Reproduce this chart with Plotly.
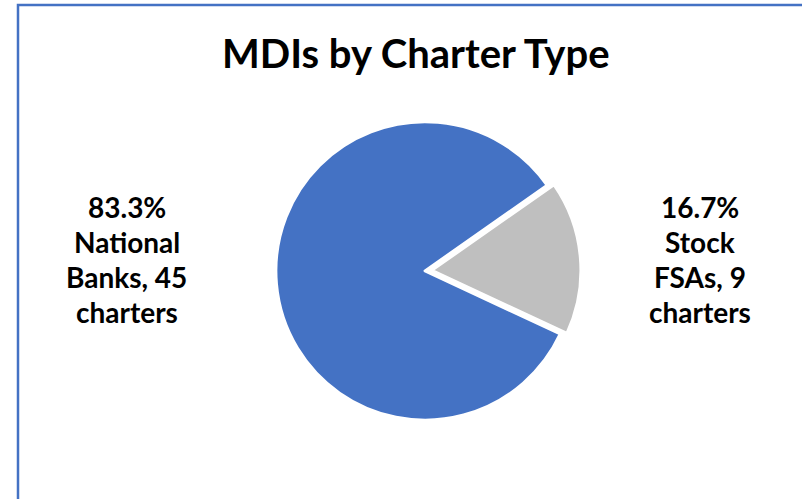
import plotly.graph_objects as go

title_text = "MDIs by Charter Type"
categories = ["Stock FSAs", "National Banks"]
charters = [9, 45]
colors = ["#BFBFBF", "#4472C4"]
label_lines = [["Stock", "FSAs, {n}", "charters"], ["National", "Banks, {n}", "charters"]]

W, H = 802, 499
total = sum(charters)

fig = go.Figure()
fig.add_trace(go.Pie(
    labels=categories,
    values=charters,
    sort=False,
    direction="clockwise",
    rotation=55,
    pull=[0.045, 0],
    marker=dict(colors=colors, line=dict(color="white", width=3)),
    textinfo="none",
    hoverinfo="label+value+percent",
    showlegend=False,
    domain=dict(x=[0.33, 0.73], y=[0.1447, 0.7695]),
))

# label annotations (one per line for tight Excel-like line spacing)
label_x = [700, 127]
label_y0 = 207
line_gap = 35
font = dict(family="Lato, 'Open Sans', sans-serif", size=28, color="black")
for i, cat in enumerate(categories):
    pct = charters[i] / total * 100
    lines = [f"<b>{pct:.1f}%</b>"] + [f"<b>{l.format(n=charters[i])}</b>" for l in label_lines[i]]
    for j, line in enumerate(lines):
        fig.add_annotation(
            x=label_x[i] / W, y=1 - (label_y0 + j * line_gap) / H,
            xref="paper", yref="paper", xanchor="center", yanchor="middle",
            text=line, showarrow=False, font=font,
        )

fig.add_annotation(
    x=416 / W, y=1 - 53 / H, xref="paper", yref="paper",
    xanchor="center", yanchor="middle", showarrow=False,
    text=f"<b>{title_text}</b>",
    font=dict(family="Lato, 'Open Sans', sans-serif", size=40, color="black"),
)

# chart-area border (only left and top visible in the crop)
fig.add_shape(type="rect", xref="paper", yref="paper",
              x0=18 / W, x1=1.05, y0=-0.05, y1=1 - 5 / H,
              line=dict(color="#4472C4", width=2.5), fillcolor="rgba(0,0,0,0)")

fig.update_layout(
    width=W, height=H,
    margin=dict(l=0, r=0, t=0, b=0),
    paper_bgcolor="white", plot_bgcolor="white",
)

fig.write_html("out.html")
